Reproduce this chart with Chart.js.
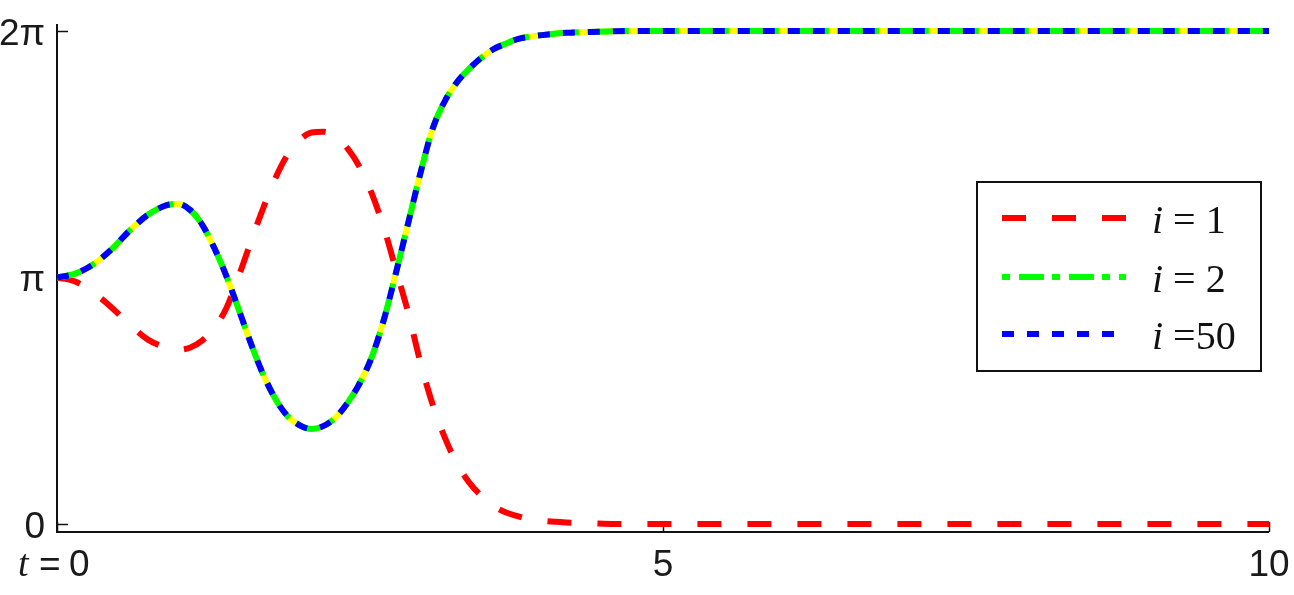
<!DOCTYPE html>
<html>
<head>
<meta charset="utf-8">
<script src="https://cdn.jsdelivr.net/npm/chart.js@4"></script>
<style>
    html, body { margin: 0; padding: 0; background: #fff; }
    #wrap { width: 1294px; height: 595px; position: relative; }
</style>
</head>
<body>
<div id="wrap"><canvas id="phaseChart"></canvas></div>
<script>
// temps t
const tValues = [0, 0.15, 0.3, 0.45, 0.6, 0.75, 0.9, 1.0, 1.1, 1.2, 1.3, 1.4, 1.5, 1.6, 1.7, 1.8, 1.9,
    2.0, 2.1, 2.2, 2.3, 2.4, 2.5, 2.6, 2.7, 2.8, 2.9, 3.0, 3.1, 3.2, 3.3, 3.4, 3.5, 3.6, 3.7, 3.8, 3.9,
    4.0, 4.2, 4.4, 4.6, 5, 6, 7, 8, 9, 10];

// i = 1
const phase1 = [3.14, 3.09, 2.95, 2.76, 2.54, 2.35, 2.25, 2.22, 2.25, 2.34, 2.50, 2.76, 3.16, 3.60, 4.02, 4.40, 4.70,
    4.89, 4.99, 5.00, 4.93, 4.78, 4.54, 4.20, 3.76, 3.22, 2.68, 2.05, 1.52, 1.10, 0.77, 0.53, 0.36, 0.23, 0.15, 0.10, 0.06,
    0.04, 0.02, 0.01, 0, 0, 0, 0, 0, 0, 0];

// i = 2
const phase2 = [3.14, 3.19, 3.31, 3.50, 3.74, 3.94, 4.06, 4.08, 4.00, 3.81, 3.51, 3.15, 2.73, 2.30, 1.91, 1.60, 1.38,
    1.26, 1.21, 1.25, 1.36, 1.55, 1.80, 2.14, 2.62, 3.22, 3.85, 4.48, 5.04, 5.39, 5.63, 5.80, 5.94, 6.05, 6.12, 6.18, 6.21,
    6.23, 6.26, 6.27, 6.28, 6.283, 6.283, 6.283, 6.283, 6.283, 6.283];

// i = 50
const phase50 = [3.14, 3.19, 3.31, 3.50, 3.74, 3.94, 4.06, 4.08, 4.00, 3.81, 3.51, 3.15, 2.73, 2.30, 1.91, 1.60, 1.38,
    1.26, 1.21, 1.25, 1.36, 1.55, 1.80, 2.14, 2.62, 3.22, 3.85, 4.48, 5.04, 5.39, 5.63, 5.80, 5.94, 6.05, 6.12, 6.18, 6.21,
    6.23, 6.26, 6.27, 6.28, 6.283, 6.283, 6.283, 6.283, 6.283, 6.283];

const xTickValues = [0, 5, 10];
const xTickLabels = ['0', '5', '10'];
const yTickValues = [0, Math.PI, 2 * Math.PI];
const yTickLabels = ['0', 'π', '2π'];

const seriesLabels = ['1', '2', '50'];

function toPoints(arr) {
    return tValues.map((t, k) => ({ x: t, y: arr[k] }));
}

const SANS = '"Liberation Sans", Arial, sans-serif';
const SERIF = '"Liberation Serif", "Times New Roman", serif';

// axes + labels dessinés à la main (style MATLAB)
const axesPlugin = {
    id: 'matlabAxes',
    beforeDatasetsDraw(chart) {
        const { ctx, chartArea: a, scales: { x, y } } = chart;
        ctx.save();
        ctx.strokeStyle = '#111';
        ctx.lineWidth = 2;
        ctx.beginPath();
        ctx.moveTo(a.left, a.top);
        ctx.lineTo(a.left, a.bottom);
        ctx.lineTo(a.right, a.bottom);
        ctx.stroke();

        // ticks (vers l'intérieur)
        ctx.lineWidth = 1.5;
        yTickValues.forEach(v => {
            const py = Math.round(y.getPixelForValue(v)) + 0.5;
            ctx.beginPath();
            ctx.moveTo(a.left, py);
            ctx.lineTo(a.left + 11, py);
            ctx.stroke();
        });
        xTickValues.forEach(v => {
            const px = Math.round(x.getPixelForValue(v)) + 0.5;
            ctx.beginPath();
            ctx.moveTo(px, a.bottom);
            ctx.lineTo(px, a.bottom - 10);
            ctx.stroke();
        });

        ctx.fillStyle = '#1a1a1a';
        ctx.font = '37px ' + SANS;
        ctx.textAlign = 'right';
        ctx.textBaseline = 'alphabetic';
        yTickValues.forEach((v, k) => {
            ctx.fillText(yTickLabels[k], a.left - 12, y.getPixelForValue(v) + 14);
        });

        const base = a.bottom + 44;
        xTickValues.forEach((v, k) => {
            const px = x.getPixelForValue(v);
            if (v === 0) {
                ctx.textAlign = 'left';
                ctx.font = 'italic 38px ' + SERIF;
                ctx.fillText('t', px - 39, base);
                ctx.font = '37px ' + SANS;
                ctx.fillText('=', px - 18, base);
                ctx.fillText(xTickLabels[k], px + 12, base);
            } else {
                ctx.textAlign = 'center';
                ctx.font = '37px ' + SANS;
                ctx.fillText(xTickLabels[k], px, base);
            }
        });
        ctx.restore();
    },
    afterDatasetsDraw(chart) {
        const ctx = chart.ctx;
        const box = { left: 977, top: 182, right: 1261, bottom: 371 };
        const rows = [218, 277, 334];
        const legendSets = [0, 1, 2];
        ctx.save();
        ctx.fillStyle = '#fff';
        ctx.fillRect(box.left, box.top, box.right - box.left, box.bottom - box.top);
        ctx.strokeStyle = '#111';
        ctx.lineWidth = 2;
        ctx.strokeRect(box.left, box.top, box.right - box.left, box.bottom - box.top);

        legendSets.forEach((di, k) => {
            const ds = chart.data.datasets[di];
            const ly = rows[k];
            ctx.strokeStyle = ds.borderColor;
            ctx.lineWidth = ds.borderWidth;
            ctx.lineCap = 'butt';
            ctx.setLineDash(ds.borderDash);
            ctx.lineDashOffset = ds.legendDashOffset || 0;
            ctx.beginPath();
            ctx.moveTo(1002, ly);
            ctx.lineTo(1126, ly);
            ctx.stroke();
            ctx.setLineDash([]);

            ctx.fillStyle = '#111';
            ctx.textAlign = 'left';
            ctx.textBaseline = 'alphabetic';
            ctx.font = 'italic 40px ' + SERIF;
            ctx.fillText('i', 1152, ly + 15);
            const w = ctx.measureText('i').width;
            ctx.font = '40px ' + SERIF;
            const rest = seriesLabels[k].length > 1 ? ' =' + seriesLabels[k] : ' = ' + seriesLabels[k];
            ctx.fillText(rest, 1152 + w, ly + 15);
        });
        ctx.restore();
    }
};

new Chart(document.getElementById('phaseChart'), {
    type: 'line',
    data: {
        datasets: [{
            label: 'i = 1',
            data: toPoints(phase1),
            borderColor: '#ff0000',
            borderWidth: 6,
            borderDash: [24, 26],
            order: 3
        }, {
            label: 'i = 2',
            data: toPoints(phase2),
            borderColor: '#00ff00',
            borderWidth: 6,
            borderDash: [25, 8, 8, 9],
            legendDashOffset: 33,
            order: 1
        }, {
            label: 'i = 50',
            data: toPoints(phase50),
            borderColor: '#0000ff',
            borderWidth: 6,
            borderDash: [12, 13],
            order: 0
        }, {
            label: 'underlay',
            data: toPoints(phase2),
            borderColor: '#ffff00',
            borderWidth: 6,
            order: 2
        }]
    },
    options: {
        responsive: true,
        maintainAspectRatio: false,
        animation: false,
        layout: { padding: { left: 57, right: 25, top: 24, bottom: 63 } },
        elements: {
            point: { radius: 0 },
            line: { cubicInterpolationMode: 'monotone', borderCapStyle: 'butt' }
        },
        plugins: {
            legend: { display: false },
            tooltip: { enabled: false }
        },
        scales: {
            x: { type: 'linear', min: 0, max: 10, display: false },
            y: { type: 'linear', min: -0.102, max: 6.372, display: false }
        }
    },
    plugins: [axesPlugin]
});
</script>
</body>
</html>
